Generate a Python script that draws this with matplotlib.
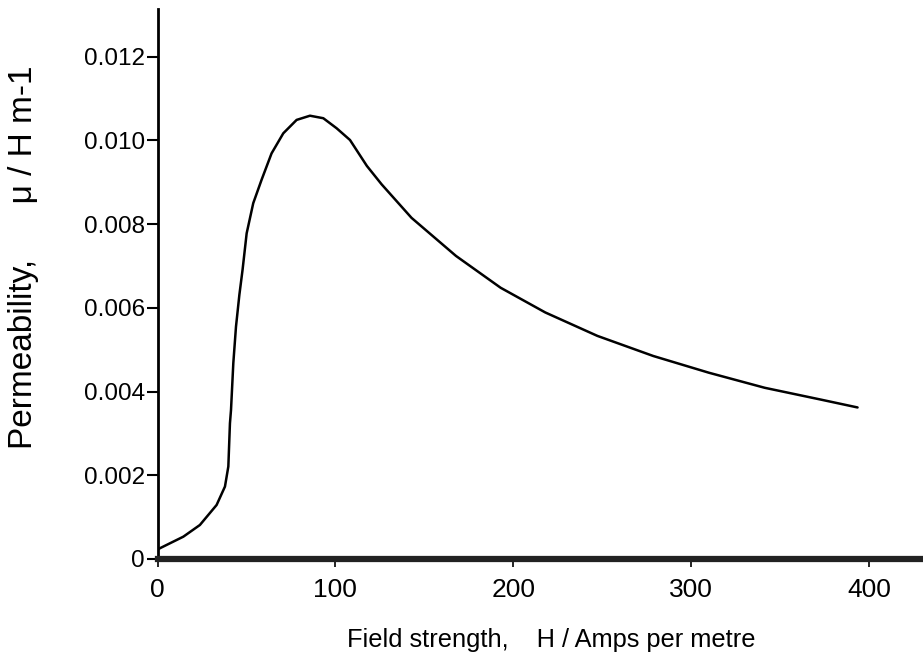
import matplotlib
matplotlib.use("Agg")
import matplotlib.pyplot as plt

# Field strength H (A/m) and permeability mu (H/m)
H = [0, 1.3, 14.5, 23.8, 33.2, 37.9, 39.8, 40.7, 41.3, 42.6, 44.1, 46.0,
     47.8, 50.1, 53.8, 58.5, 64.1, 70.7, 78.2, 85.7, 93.2, 100.7, 108.2,
     117.7, 126, 142.8, 167.8, 192.9, 218, 247.3, 278.7, 310, 341.4,
     372.7, 393.6]
mu = [0.00022, 0.000256, 0.000533, 0.000812, 0.00129, 0.00173, 0.00221,
      0.00324, 0.00356, 0.00468, 0.00555, 0.00631, 0.00691, 0.00778,
      0.0085, 0.00906, 0.00969, 0.01017, 0.01049, 0.01059, 0.01053,
      0.01029, 0.01001, 0.00939, 0.00895, 0.00815, 0.00724, 0.00648,
      0.00589, 0.00533, 0.00485, 0.00445, 0.00409, 0.00381, 0.00362]

xticks = [0, 100, 200, 300, 400]
xticklabels = ["0", "100", "200", "300", "400"]
yticks = [0, 0.002, 0.004, 0.006, 0.008, 0.010, 0.012]
yticklabels = ["0", "0.002", "0.004", "0.006", "0.008", "0.010", "0.012"]

xlabel = "Field strength,    H / Amps per metre"
ylabel = "Permeability,      \u03bc / H m-1"

fam = ["Liberation Sans", "DejaVu Sans"]
plt.rcParams["font.family"] = fam

fig = plt.figure(figsize=(9.23, 6.70), dpi=100)
ax = fig.add_axes([0.1707, 0.1657, 0.8293, 0.8209])

ax.plot(H, mu, color="black", lw=1.8, solid_capstyle="round",
        solid_joinstyle="round")

ax.set_xlim(0, 430.4)
ax.set_ylim(0, 0.01314)

for s in ["top", "right"]:
    ax.spines[s].set_visible(False)
ax.spines["left"].set_linewidth(2.0)
ax.spines["bottom"].set_linewidth(4.5)
ax.spines["bottom"].set_color("#222222")

ax.set_xticks(xticks)
ax.set_xticklabels(xticklabels)
ax.set_yticks(yticks)
ax.set_yticklabels(yticklabels)
ax.tick_params(axis="y", direction="out", length=8, width=1.5, labelsize=17.5, pad=1)
ax.tick_params(axis="x", direction="out", length=6, width=1.2, labelsize=19, pad=8)

fig.text(0.597, 0.045, xlabel, ha="center", va="center", fontsize=18.3)
fig.text(0.025, 0.616, ylabel, ha="center", va="center", rotation=90,
         fontsize=24)

fig.savefig("out.png", dpi=100)
